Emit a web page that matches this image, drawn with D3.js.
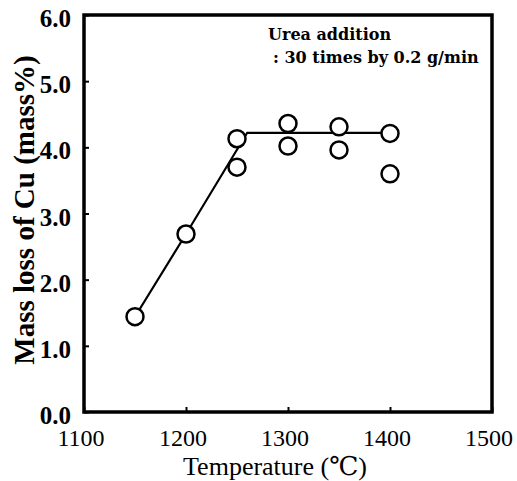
<html>
<head>
<script src="https://d3js.org/d3.v7.min.js"></script>
<style>
body { margin: 0; background: #fff; }
text { font-family: "Liberation Serif", "DejaVu Serif", serif; fill: #000; }
</style>
</head>
<body>
<svg id="chart" width="517" height="481"></svg>
<script>
// measured points
var temps = [1150, 1200, 1250, 1250, 1300, 1300, 1350, 1350, 1400, 1400];
var loss = [1.44, 2.69, 4.13, 3.70, 4.36, 4.02, 4.31, 3.96, 4.21, 3.60];
// trend line
var lineT = [1150, 1200, 1260, 1400];
var lineL = [1.44, 2.69, 4.22, 4.22];
var xTicks = [1100, 1200, 1300, 1400, 1500];
var yTicks = [0, 1, 2, 3, 4, 5, 6];

var svg = d3.select("#chart");
var plotL = 84, plotR = 492, plotT = 15, plotB = 412;

var x = d3.scaleLinear().domain([1100, 1500]).range([plotL, plotR]);
var y = d3.scaleLinear().domain([0, 6]).range([plotB, plotT]);

// inward ticks
svg.append("g")
  .attr("transform", "translate(0," + plotB + ")")
  .call(d3.axisBottom(x).tickValues(xTicks).tickSize(-5).tickFormat(""))
  .call(function(g) { g.select(".domain").remove(); g.selectAll("line").attr("stroke-width", 2); });
svg.append("g")
  .attr("transform", "translate(" + plotL + ",0)")
  .call(d3.axisLeft(y).tickValues(yTicks).tickSize(-5).tickFormat(""))
  .call(function(g) { g.select(".domain").remove(); g.selectAll("line").attr("stroke-width", 2); });

// frame
svg.append("rect")
  .attr("x", plotL).attr("y", plotT)
  .attr("width", plotR - plotL).attr("height", plotB - plotT)
  .attr("fill", "none").attr("stroke", "#000").attr("stroke-width", 3.5);

// tick labels
svg.selectAll(".xl").data(xTicks).enter().append("text")
  .attr("x", function(d) { return x(d) - 3; })
  .attr("y", 446)
  .attr("text-anchor", "middle")
  .attr("font-size", 24)
  .text(function(d) { return d; });
svg.selectAll(".yl").data(yTicks).enter().append("text")
  .attr("x", 71)
  .attr("y", function(d) { return y(d) + 12; })
  .attr("text-anchor", "end")
  .attr("font-size", 25)
  .attr("font-weight", "bold")
  .text(function(d) { return d3.format(".1f")(d); });

// axis titles
svg.append("text")
  .attr("x", 275).attr("y", 475)
  .attr("text-anchor", "middle")
  .attr("font-size", 26)
  .text("Temperature (\u2103)");
svg.append("text")
  .attr("transform", "translate(34,210) rotate(-90)")
  .attr("text-anchor", "middle")
  .attr("font-size", 29)
  .attr("font-weight", "bold")
  .text("Mass loss of Cu (mass%)");

// note
svg.append("text").attr("x", 268).attr("y", 40)
  .style("font-family", "'DejaVu Serif', serif")
  .attr("font-size", 16).attr("font-weight", "bold").text("Urea addition");
svg.append("text").attr("x", 273).attr("y", 63)
  .style("font-family", "'DejaVu Serif', serif")
  .attr("font-size", 16).attr("font-weight", "bold").text(": 30 times by 0.2 g/min");

// trend line
var line = d3.line()
  .x(function(d, i) { return x(lineT[i]); })
  .y(function(d, i) { return y(lineL[i]); });
svg.append("path")
  .attr("d", line(lineT))
  .attr("fill", "none").attr("stroke", "#000").attr("stroke-width", 2.2);

// points
svg.selectAll(".pt").data(temps).enter().append("circle")
  .attr("cx", function(d) { return x(d); })
  .attr("cy", function(d, i) { return y(loss[i]); })
  .attr("r", 8.5)
  .attr("fill", "#fff").attr("stroke", "#000").attr("stroke-width", 2.5);
</script>
</body>
</html>
